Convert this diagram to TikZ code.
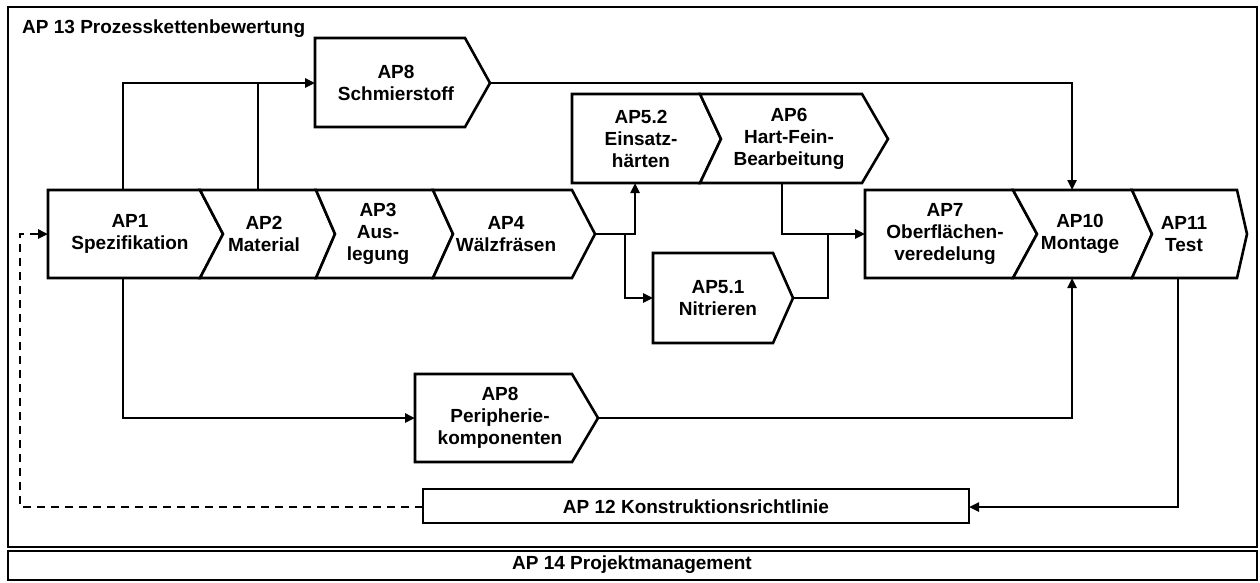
\documentclass[tikz,border=0pt]{standalone}
\usepackage{fontspec}
\setmainfont{Liberation Sans}
\usetikzlibrary{arrows.meta}
\begin{document}
\begin{tikzpicture}[x=1pt,y=-1pt,
  box/.style={draw=black, line width=2.6pt, fill=white, line join=miter},
  frame/.style={draw=black, line width=2.8pt},
  txt/.style={align=center, font=\bfseries\fontsize{19}{22}\selectfont, inner sep=0pt},
  conn/.style={draw=black, line width=2.4pt, -{Triangle[length=10pt,width=9pt]}},
  plain/.style={draw=black, line width=2.4pt},
  dconn/.style={draw=black, line width=2.4pt, dash pattern=on 8pt off 6pt, -{Triangle[length=10pt,width=9pt]}}]
\useasboundingbox (0,0) rectangle (1260,582);
\fill[white] (0,0) rectangle (1260,582);
% frames
\draw[frame] (8,7) rectangle (1257,547);
\draw[frame] (8,551) rectangle (1257,580);
\node[txt, anchor=base west] (t13) at (22,33) {AP 13 Prozesskettenbewertung};
\node[txt] (t14) at (632,565) {AP 14 Projektmanagement};
% chevrons
\draw[box] (48,190) -- (200,190) -- (223,234) -- (200,278) -- (48,278) -- cycle;
\draw[box] (200,190) -- (316,190) -- (335,234) -- (316,278) -- (200,278) -- (223,234) -- cycle;
\draw[box] (316,190) -- (433,190) -- (453,234) -- (433,278) -- (316,278) -- (335,234) -- cycle;
\draw[box] (433,190) -- (572,190) -- (595,234) -- (572,278) -- (433,278) -- (453,234) -- cycle;
\draw[box] (572,94) -- (700,94) -- (721,139) -- (700,183) -- (572,183) -- cycle;
\draw[box] (700,94) -- (862,94) -- (888,139) -- (862,183) -- (700,183) -- (721,139) -- cycle;
\draw[box] (653,253) -- (773,253) -- (793,298) -- (773,343) -- (653,343) -- cycle;
\draw[box] (865,190) -- (1013,190) -- (1037,234) -- (1013,278) -- (865,278) -- cycle;
\draw[box] (1013,190) -- (1132,190) -- (1152,234) -- (1132,278) -- (1013,278) -- (1037,234) -- cycle;
\draw[box] (1132,190) -- (1237,190) -- (1247,234) -- (1237,278) -- (1132,278) -- (1152,234) -- cycle;
\draw[box] (315,38) -- (465,38) -- (490,83) -- (465,127) -- (315,127) -- cycle;
\draw[box] (415,374) -- (572,374) -- (598,418) -- (572,462) -- (415,462) -- cycle;
\draw[box] (423,489) rectangle (969,523);
% texts
\node[txt] (ap1) at (130,234) {AP1\\Spezifikation};
\node[txt] (ap2) at (264,234) {AP2\\Material};
\node[txt] (ap3) at (378,234) {AP3\\Aus-\\legung};
\node[txt] (ap4) at (506,234) {AP4\\Wälzfräsen};
\node[txt] (ap52) at (641,139) {AP5.2\\Einsatz-\\härten};
\node[txt] (ap6) at (789,139) {AP6\\Hart-Fein-\\Bearbeitung};
\node[txt] (ap51) at (718,298) {AP5.1\\Nitrieren};
\node[txt] (ap7) at (945,234) {AP7\\Oberflächen-\\veredelung};
\node[txt] (ap10) at (1080,234) {AP10\\Montage};
\node[txt] (ap11) at (1184,234) {AP11\\Test};
\node[txt] (ap8s) at (396,83) {AP8\\Schmierstoff};
\node[txt] (ap8p) at (500,418) {AP8\\Peripherie-\\komponenten};
\node[txt] (ap12) at (696,507) {AP 12 Konstruktionsrichtlinie};
% connection points
\coordinate (ap1-top) at (123,190);
\coordinate (ap1-bot) at (123,278);
\coordinate (ap1-w) at (48,234);
\coordinate (ap2-top) at (258,190);
\coordinate (ap8s-in) at (315,83);
\coordinate (ap8s-tip) at (490,83);
\coordinate (ap10-top) at (1072,190);
\coordinate (ap10-bot) at (1072,278);
\coordinate (ap4-tip) at (595,234);
\coordinate (ap52-bot) at (635,183);
\coordinate (j1) at (625,234);
\coordinate (ap51-in) at (653,298);
\coordinate (ap51-tip) at (793,298);
\coordinate (j2) at (828,234);
\coordinate (ap6-bot) at (782,183);
\coordinate (ap7-in) at (865,234);
\coordinate (per-in) at (415,418);
\coordinate (per-tip) at (598,418);
\coordinate (ap11-bot) at (1178,278);
\coordinate (ap12-e) at (969,507);
\coordinate (ap12-w) at (423,507);
\coordinate (dc) at (20,507);
% connectors
\draw[conn] (ap1-top) |- (ap8s-in);
\draw[plain] (ap2-top) -- (ap2-top |- ap8s-in);
\draw[conn] (ap8s-tip) -| (ap10-top);
\draw[conn] (ap4-tip) -| (ap52-bot);
\draw[conn] (j1) |- (ap51-in);
\draw[conn] (ap6-bot) |- (ap7-in);
\draw[plain] (ap51-tip) -| (j2);
\draw[conn] (ap1-bot) |- (per-in);
\draw[conn] (per-tip) -| (ap10-bot);
\draw[conn] (ap11-bot) |- (ap12-e);
\draw[dconn] (ap12-w) -- (dc) |- (ap1-w);
\end{tikzpicture}
\end{document}
